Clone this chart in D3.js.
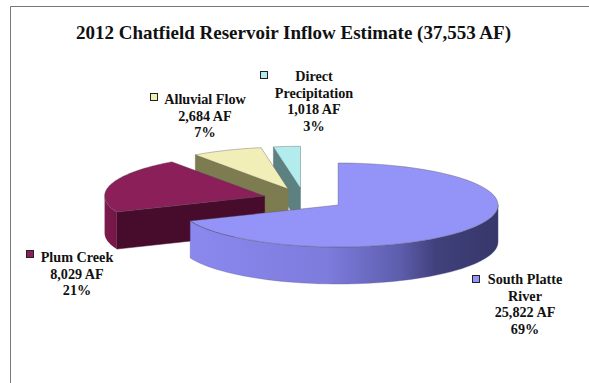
<!DOCTYPE html>
<html><head><meta charset="utf-8">
<script src="https://cdn.jsdelivr.net/npm/d3@7"></script>
<style>html,body{margin:0;padding:0;background:#fff}svg{display:block}text{font-family:"Liberation Serif",serif;font-weight:bold;fill:#111}</style>
</head><body><svg id="c" width="589" height="383"></svg>
<script>
const categories=["South Platte River","Plum Creek","Alluvial Flow","Direct Precipitation"];
const valuesAF=[25822,8029,2684,1018];
const percents=[69,21,7,3];
const chartTitle="2012 Chatfield Reservoir Inflow Estimate (37,553 AF)";
const labelLines=[["South Platte","River"],["Plum Creek"],["Alluvial Flow"],["Direct","Precipitation"]];
const topColors=["#9493f8","#8a1f5a","#f2eeb8","#b2ecec"];
const cutColors=[null,"#470b2c","#7d7b50","#5d8080"];
const labelPos=[[525,284,476,279],[77,262,30,254],[205,104,154,97],[314,81,264,75]];

const W=589,H=383,cx=304,cy=199,rx=160,ry=42,depth=37,explode=41;
const svg=d3.select("#c");
const X=d3.scaleLinear().domain([-1,1]).range([cx-rx,cx+rx]);
const Y=d3.scaleLinear().domain([-1,1]).range([cy-ry,cy+ry]);
const arcs=d3.pie().sort(null).startAngle(0).endAngle(2*Math.PI)(valuesAF);
arcs.forEach(a=>{const m=(a.startAngle+a.endAngle)/2;a.ox=Math.sin(m)*explode/rx;a.oy=-Math.cos(m)*explode/rx;});
const px=(a,t)=>X(a.ox+Math.sin(t)),py=(a,t)=>Y(a.oy-Math.cos(t));
const ax=a=>X(a.ox),ay=a=>Y(a.oy);
const samples=(s,e)=>d3.range(0,61).map(i=>s+(e-s)*i/60);
const line=d3.line().x(d=>d[0]).y(d=>d[1]);

const defs=svg.append("defs");
function grad(id,stops){const g=defs.append("linearGradient").attr("id",id).attr("gradientUnits","userSpaceOnUse").attr("x1",stops.x1).attr("x2",stops.x2).attr("y1",0).attr("y2",0);
 stops.s.forEach(([o,c])=>g.append("stop").attr("offset",o).attr("stop-color",c));}
grad("w0",{x1:189,x2:498,s:[[0,"#8b89ee"],[.45,"#7d7bdc"],[.68,"#5e5eae"],[.8,"#40407c"],[1,"#37376a"]]});
grad("w1",{x1:105,x2:125,s:[[0,"#7e1a4e"],[1,"#6a1340"]]});

svg.append("path").attr("d","M10.5,383V6.5H589").attr("fill","none").attr("stroke","#777").attr("stroke-width",1);

svg.append("text").attr("x",293.5).attr("y",39).attr("text-anchor","middle").attr("font-size",19).text(chartTitle);

// back to front: direct, alluvial, plum, south
[3,2,1,0].forEach(i=>{
 const a=arcs[i],s=a.startAngle,e=a.endAngle,g=svg.append("g");
 // cut wall along the start edge when it faces the viewer
 if(i>0){
  const q=[[ax(a),ay(a)],[px(a,s),py(a,s)],[px(a,s),py(a,s)+depth],[ax(a),ay(a)+depth]];
  g.append("path").attr("d",line(q)+"Z").attr("fill",cutColors[i]).attr("stroke",cutColors[i]).attr("stroke-width",.5);
 }
 // outer wall
 const ws=Math.max(s,Math.PI/2),we=Math.min(e,3*Math.PI/2);
 if(we>ws){
  const up=samples(ws,we).map(t=>[px(a,t),py(a,t)]);
  const dn=up.slice().reverse().map(p=>[p[0],p[1]+depth]);
  g.append("path").attr("d",line(up.concat(dn))+"Z").attr("fill",`url(#w${i})`).attr("stroke","#5a5a90").attr("stroke-opacity",i==0?.5:0).attr("stroke-width",.7);
 }
 // top face
 const pts=[[ax(a),ay(a)]].concat(samples(s,e).map(t=>[px(a,t),py(a,t)]));
 g.append("path").attr("d",line(pts)+"Z").attr("fill",topColors[i]).attr("stroke","#555").attr("stroke-opacity",.55).attr("stroke-width",.7);
});

const fmt=d3.format(",");
categories.forEach((c,i)=>{
 const [tx,ty,mx,my]=labelPos[i];
 const lines=labelLines[i].concat([fmt(valuesAF[i])+" AF",percents[i]+"%"]);
 const t=svg.append("text").attr("text-anchor","middle").attr("font-size",14.2);
 lines.forEach((l,k)=>t.append("tspan").attr("x",tx).attr("y",ty+k*16.5).text(l));
 svg.append("rect").attr("x",mx-3.5).attr("y",my-3.5).attr("width",7).attr("height",7).attr("fill",topColors[i]).attr("stroke","#222").attr("stroke-width",1);
});
</script></body></html>
